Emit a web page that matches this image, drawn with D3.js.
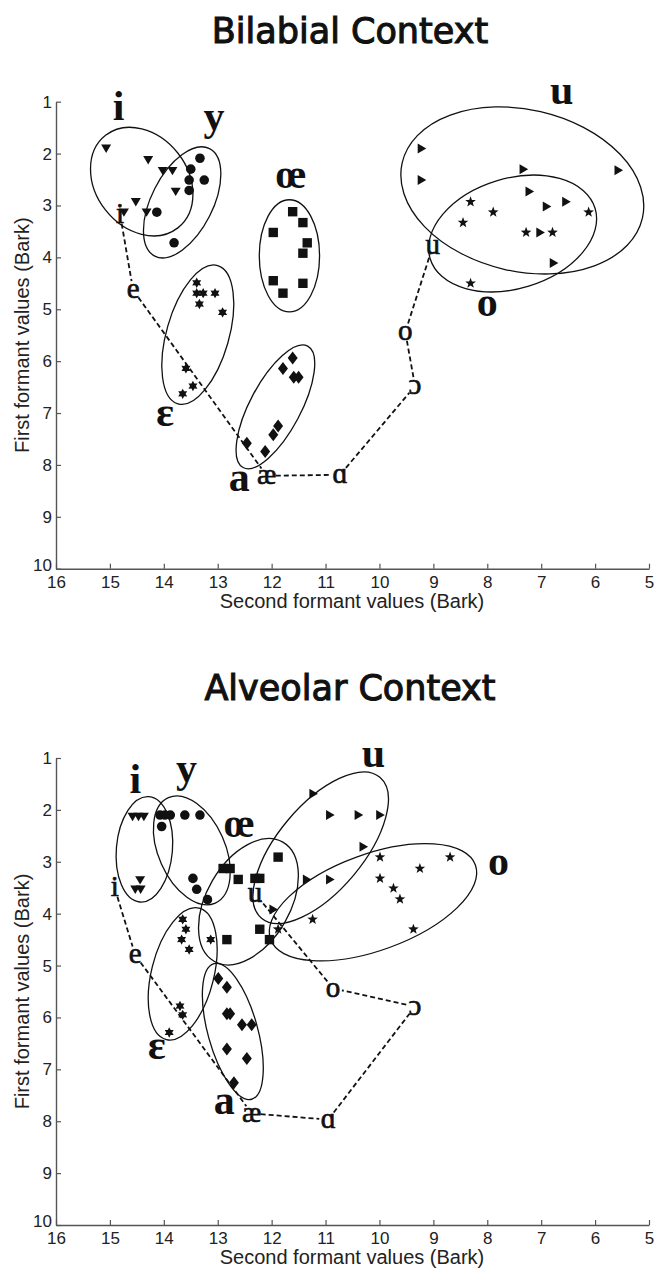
<!DOCTYPE html>
<html><head><meta charset="utf-8">
<script src="https://cdn.jsdelivr.net/npm/d3@7"></script>
<style>body{margin:0;background:#fff}svg{display:block}</style>
</head><body><svg id="c" width="655" height="1272"></svg>
<script>
// ---------- data (F2 in Bark, F1 in Bark) ----------
const xTicks = [16,15,14,13,12,11,10,9,8,7,6,5];
const yTicks = [1,2,3,4,5,6,7,8,9,10];
const vowelNames = ["i","y","œ","ɛ","a","u","o"];
const markerShapes = ["triDown","circle","square","hexagram","diamond","triRight","star"];
const refVowels = ["i","e","æ","ɑ","ɔ","o","u"];

// Bilabial context measurements
const bilabialI  = [[15.07,1.90],[14.29,2.12],[14.02,2.33],[13.84,2.33],[13.78,2.73],[14.52,2.93],[14.74,3.13],[14.32,3.13]];
const bilabialY  = [[13.33,2.09],[13.50,2.30],[13.53,2.51],[13.25,2.51],[13.53,2.71],[14.13,3.13],[13.81,3.72]];
const bilabialOE = [[11.61,3.12],[11.42,3.33],[11.97,3.52],[11.34,3.72],[11.42,3.92],[11.97,4.45],[11.79,4.69],[11.42,4.50]];
const bilabialE  = [[13.39,4.49],[13.39,4.69],[13.27,4.69],[13.05,4.69],[13.34,4.90],[12.91,5.06],[13.59,6.14],[13.46,6.48],[13.65,6.63]];
const bilabialA  = [[11.61,5.94],[11.79,6.14],[11.59,6.31],[11.50,6.31],[11.88,7.25],[11.97,7.42],[12.12,7.74],[12.46,7.58]];
const bilabialU  = [[9.22,1.90],[9.22,2.51],[7.33,2.30],[5.57,2.32],[7.22,2.73],[6.90,3.02],[6.54,2.93],[7.02,3.52],[6.77,4.11]];
const bilabialO  = [[8.31,2.93],[7.89,3.13],[8.45,3.33],[6.12,3.13],[7.28,3.52],[6.79,3.52],[8.31,4.50]];
// ellipses: [centre F2, centre F1, semi-major, semi-minor (Bark), tilt deg]
const bilabialEllipses = [[14.41,2.54,1.11,0.87,52],[13.66,2.94,1.14,0.58,-63],[11.67,3.97,1.06,0.57,90],[13.37,5.49,1.36,0.59,-74],[11.93,6.88,1.30,0.48,-62],[7.35,2.71,2.33,1.53,13],[7.53,3.54,1.63,1.04,-17]];
const bilabialLabels = [[14.84,1.35],[13.07,1.55],[11.64,2.66],[13.98,7.25],[12.60,8.50],[6.62,1.04],[8.00,5.13]];
const bilabialRef = [[14.81,3.18],[14.57,4.63],[12.09,8.21],[10.73,8.19],[9.34,6.48],[9.52,5.44],[9.01,3.78]];

// Alveolar context measurements
const alveolarI  = [[14.58,2.13],[14.47,2.13],[14.37,2.13],[14.44,3.35],[14.53,3.53],[14.43,3.53]];
const alveolarY  = [[14.07,2.10],[13.98,2.10],[13.88,2.10],[14.04,2.32],[13.61,2.10],[13.33,2.10],[13.46,3.32],[13.39,3.53],[13.19,3.73]];
const alveolarOE = [[12.90,3.13],[12.77,3.13],[12.62,3.34],[12.31,3.32],[12.22,3.32],[11.88,2.91],[12.22,4.30],[12.04,4.50],[12.83,4.50]];
const alveolarE  = [[13.65,4.11],[13.59,4.30],[13.67,4.50],[13.53,4.69],[13.13,4.50],[13.70,5.78],[13.65,5.95],[13.90,6.29]];
const alveolarA  = [[12.99,5.25],[12.83,5.42],[12.83,5.93],[12.77,5.93],[12.55,6.14],[12.37,6.14],[12.83,6.61],[12.46,6.79],[12.70,7.26]];
const alveolarU  = [[11.23,1.69],[10.92,2.10],[10.39,2.10],[9.99,2.10],[10.30,2.71],[11.35,3.34],[10.92,3.34],[11.97,3.92]];
const alveolarO  = [[9.99,2.91],[9.25,3.13],[8.69,2.91],[9.99,3.32],[9.74,3.51],[9.62,3.72],[9.37,4.30],[11.24,4.11],[11.88,4.30]];
const alveolarEllipses = [[14.36,2.76,1.00,0.53,-85],[13.48,2.78,1.09,0.63,66],[12.43,3.77,1.30,0.79,-60],[13.65,5.16,1.28,0.59,-76],[12.72,6.27,1.33,0.47,74.5],[11.09,2.73,1.74,0.81,-50],[10.12,3.78,2.06,0.91,-20]];
const alveolarLabels = [[14.53,1.68],[13.58,1.46],[12.60,2.52],[14.13,6.81],[12.88,7.86],[10.11,1.17],[7.79,3.25]];
const alveolarRef = [[14.91,3.51],[14.53,4.80],[12.37,7.85],[10.95,7.97],[9.34,5.79],[10.86,5.44],[12.31,3.61]];

// ---------- drawing ----------
const svg = d3.select("#c");
const ink = "#111";

function shapePath(name){
  switch(name){
    case "triDown": return "M-5,-3.8L5,-3.8L0,4.6Z";
    case "triRight": return "M-3.8,-5L4.8,0L-3.8,5Z";
    case "circle": return d3.symbol(d3.symbolCircle, 72)();
    case "square": return "M-4.7,-4.7H4.7V4.7H-4.7Z";
    case "diamond": return "M0,-6.5L5,0L0,6.5L-5,0Z";
    case "star": {
      const pts=[]; for(let k=0;k<10;k++){const r=k%2?2.3:5.6;const a=-Math.PI/2+k*Math.PI/5;pts.push([r*Math.cos(a),r*Math.sin(a)]);}
      return "M"+pts.map(p=>p.join(",")).join("L")+"Z";
    }
    case "hexagram": {
      const pts=[]; for(let k=0;k<12;k++){const r=k%2?2.9:5.2;const a=-Math.PI/2+k*Math.PI/6;pts.push([r*Math.cos(a),r*Math.sin(a)]);}
      return "M"+pts.map(p=>p.join(",")).join("L")+"Z";
    }
  }
}

function drawPanel(cfg){
  const x = d3.scaleLinear().domain([16,5]).range([56,649]);
  const y = d3.scaleLinear().domain([1,10]).range(cfg.yRange);
  const unit = (Math.abs(x(0)-x(1)) + Math.abs(y(1)-y(0)))/2;
  const g = svg.append("g");

  // title
  g.append("text").attr("x",350).attr("y",cfg.titleY).attr("text-anchor","middle")
    .attr("font-family","DejaVu Sans, Verdana, sans-serif").attr("font-size",35)
    .attr("fill",ink).attr("stroke",ink).attr("stroke-width",1.1).text(cfg.title);

  // axes
  const ax = g.append("g").attr("transform",`translate(0,${cfg.yRange[1]})`)
    .call(d3.axisBottom(x).tickValues(xTicks).tickFormat(d3.format("d")).tickSize(-5).tickSizeOuter(0).tickPadding(7));
  const ay = g.append("g").attr("transform","translate(56,0)")
    .call(d3.axisLeft(y).tickValues(yTicks).tickFormat(d3.format("d")).tickSize(-5).tickSizeOuter(0).tickPadding(4));
  [ax,ay].forEach(a=>{
    a.select(".domain").attr("stroke","#555").attr("stroke-width",1.4);
    a.selectAll(".tick line").attr("stroke","#555").attr("stroke-width",1.2);
    a.selectAll(".tick text").attr("font-family","Liberation Sans, Arial, sans-serif").attr("font-size",17).attr("fill","#222");
  });
  // lift the lowest y label so it sits above the "16" x label
  ay.selectAll(".tick text").filter(d=>d===10).attr("dy","0.1em");
  g.append("text").attr("x",352).attr("y",cfg.yRange[1]+39).attr("text-anchor","middle")
    .attr("font-family","Liberation Sans, Arial, sans-serif").attr("font-size",20).attr("fill","#222")
    .text("Second formant values (Bark)");
  g.append("text").attr("transform",`translate(29,${(cfg.yRange[0]+cfg.yRange[1])/2}) rotate(-90)`)
    .attr("text-anchor","middle").attr("font-family","Liberation Sans, Arial, sans-serif")
    .attr("font-size",20).attr("fill","#222").text("First formant values (Bark)");

  // ellipses
  g.selectAll("ellipse.cl").data(cfg.ellipses).join("ellipse")
    .attr("cx",0).attr("cy",0)
    .attr("rx",d=>d[2]*unit).attr("ry",d=>d[3]*unit)
    .attr("transform",d=>`translate(${x(d[0])},${y(d[1])}) rotate(${d[4]})`)
    .attr("fill","none").attr("stroke",ink).attr("stroke-width",1.3);

  // reference trajectory (dashed), shortened at glyphs
  const P = cfg.ref.map(d=>[x(d[0]),y(d[1])]);
  const segs = d3.pairs(P).map(([a,b])=>{
    const dx=b[0]-a[0], dy=b[1]-a[1], L=Math.hypot(dx,dy), gap=9;
    return [a[0]+dx/L*gap, a[1]+dy/L*gap, b[0]-dx/L*gap, b[1]-dy/L*gap];
  });
  g.selectAll("line.traj").data(segs).join("line")
    .attr("x1",d=>d[0]).attr("y1",d=>d[1]).attr("x2",d=>d[2]).attr("y2",d=>d[3])
    .attr("stroke",ink).attr("stroke-width",1.8).attr("stroke-dasharray","5,3");

  // markers
  cfg.series.forEach((pts,i)=>{
    g.append("g").selectAll("path").data(pts).join("path")
      .attr("d",shapePath(markerShapes[i]))
      .attr("transform",d=>`translate(${x(d[0])},${y(d[1])})`)
      .attr("fill",ink);
  });

  // reference vowel glyphs
  g.selectAll("text.ref").data(cfg.ref).join("text")
    .attr("x",d=>x(d[0])).attr("y",d=>y(d[1])).attr("dy","0.28em")
    .attr("text-anchor","middle").attr("font-family","Liberation Serif, DejaVu Serif, serif")
    .attr("font-size",29).attr("fill",ink).attr("stroke",ink).attr("stroke-width",0.7)
    .text((d,i)=>refVowels[i]);

  // cluster labels
  g.selectAll("text.lab").data(cfg.labels).join("text")
    .attr("x",d=>x(d[0])).attr("y",d=>y(d[1]))
    .attr("text-anchor","middle").attr("font-family","Liberation Serif, DejaVu Serif, serif")
    .attr("font-weight","bold").attr("font-size",42).attr("fill",ink).text((d,i)=>vowelNames[i]);
}

drawPanel({title:"Bilabial Context", titleY:43, yRange:[101.7,568.7],
  series:[bilabialI,bilabialY,bilabialOE,bilabialE,bilabialA,bilabialU,bilabialO],
  ellipses:bilabialEllipses, labels:bilabialLabels, ref:bilabialRef});
drawPanel({title:"Alveolar Context", titleY:700, yRange:[758,1225],
  series:[alveolarI,alveolarY,alveolarOE,alveolarE,alveolarA,alveolarU,alveolarO],
  ellipses:alveolarEllipses, labels:alveolarLabels, ref:alveolarRef});
</script></body></html>
